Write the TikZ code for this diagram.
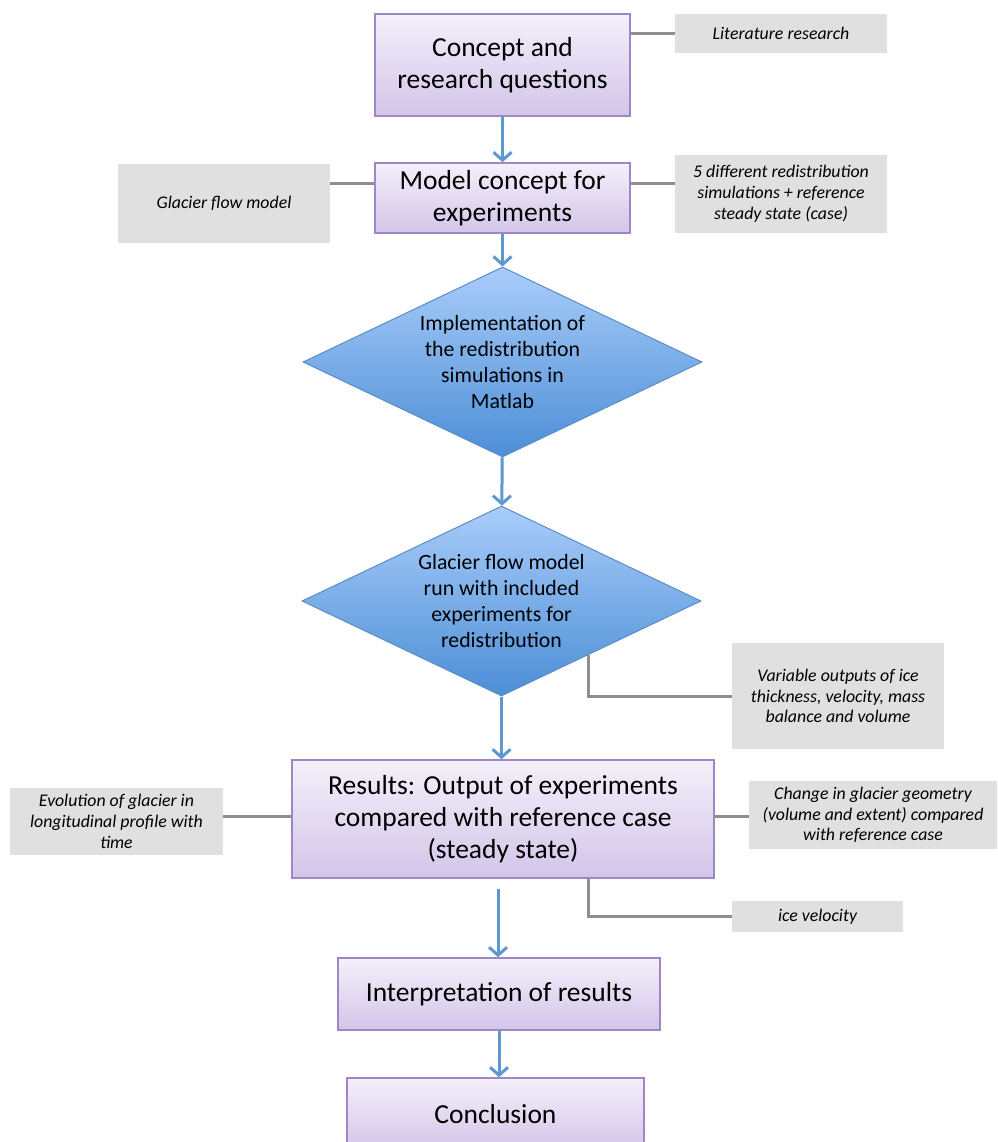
\documentclass[tikz,border=0pt]{standalone}
\usepackage{fontspec}
\setmainfont{Carlito}
\usetikzlibrary{shapes.geometric,arrows.meta,calc}
\definecolor{ptop}{HTML}{F4F0FA}
\definecolor{pbot}{HTML}{D3C5E9}
\definecolor{pborder}{HTML}{9F86C4}
\definecolor{gfill}{HTML}{E0E0E0}
\definecolor{lgray}{HTML}{8E8E8E}
\definecolor{ablue}{HTML}{5E98D0}
\definecolor{dtop}{HTML}{A9CDFA}
\definecolor{dbot}{HTML}{4C8ED6}
\definecolor{dborder}{HTML}{5A8DC8}
\begin{document}
\begin{tikzpicture}[x=1pt,y=-1pt,
  pbox/.style={draw=pborder, line width=1.5pt, top color=ptop, bottom color=pbot,
    align=center, font=\fontsize{27.5}{32}\selectfont, inner sep=0pt},
  gbox/.style={fill=gfill, align=center, font=\fontsize{17.8}{20.8}\selectfont\itshape, inner sep=0pt},
  dia/.style={diamond, aspect=2, draw=dborder, line width=1pt, top color=dtop, bottom color=dbot,
    align=center, font=\fontsize{21.8}{25.7}\selectfont, inner sep=0pt,
    minimum width=399pt, minimum height=190pt},
  flow/.style={draw=ablue, line width=3pt, -{Straight Barb[length=8pt,width=18pt]}},
  link/.style={draw=lgray, line width=3pt}]
\useasboundingbox (0,0) rectangle (997,1142);
\fill[white] (0,0) rectangle (997,1142);

% main boxes
\node[pbox, minimum width=255pt, minimum height=102pt] (b1) at (502.5,65) {Concept and\\research questions};
\node[pbox, minimum width=255pt, minimum height=70pt] (b2) at (502.5,198) {Model concept for\\experiments};
\node[dia] (d1) at (502.5,362) {Implementation of\\the redistribution\\simulations in\\Matlab};
\node[dia] (d2) at (501.5,601) {Glacier flow model\\run with included\\experiments for\\redistribution};
\node[pbox, minimum width=422pt, minimum height=118pt] (b3) at (503,819) {Results: Output of experiments\\compared with reference case\\(steady state)};
\node[pbox, minimum width=322pt, minimum height=72pt] (b4) at (499,994) {\raisebox{-3pt}{Interpretation of results}};
\node[pbox, minimum width=297pt, minimum height=72pt] (b5) at (495.5,1114) {\raisebox{-3pt}{Conclusion}};

% side boxes
\node[gbox, minimum width=212pt, minimum height=39pt] (lit) at (781,33.5) {Literature research};
\node[gbox, minimum width=212pt, minimum height=79pt] (gfm) at (224,203.5) {Glacier flow model};
\node[gbox, minimum width=212pt, minimum height=78pt] (sim) at (781,194) {5 different redistribution\\simulations + reference\\steady state (case)};
\node[gbox, minimum width=212pt, minimum height=106pt] (var) at (838,696) {Variable outputs of ice\\thickness, velocity, mass\\balance and volume};
\node[gbox, minimum width=213pt, minimum height=67pt] (evo) at (116.5,821.5) {Evolution of glacier in\\longitudinal profile with\\time};
\node[gbox, minimum width=248pt, minimum height=68pt] (chg) at (873,815) {Change in glacier geometry\\(volume and extent) compared\\with reference case};
\node[gbox, minimum width=171pt, minimum height=31pt] (ice) at (817.5,916.5) {ice velocity};

% gray links
\draw[link] (lit.west) -- (lit.west -| b1.east);
\draw[link] ([yshift=14pt]b2.west) -- ([yshift=19.5pt]gfm.east);
\draw[link] ([yshift=14pt]b2.east) -- ([yshift=10pt]sim.west);
\draw[link] (var.west) -| ($(d2.south)!0.4336!(d2.east)$);
\draw[link] ([yshift=5.5pt]evo.east) -- ([yshift=5.5pt]evo.east -| b3.west);
\draw[link] ([yshift=-1.5pt]chg.west) -- ([yshift=-1.5pt]chg.west -| b3.east);
\draw[link] (ice.west) -| ($(b3.south west)!0.701!(b3.south east)$);

% flow arrows
\draw[flow] (b1) -- (b2);
\draw[flow] (b2) -- (d1);
\draw[flow] (d1) -- (d2);
\draw[flow] (d2.south) -- (d2.south |- b3.north);
\draw[flow] ([xshift=-5pt,yshift=-10pt]b3.south) -- ([xshift=-5pt]b3.south |- b4.north);
\draw[flow] (b4.south) -- (b4.south |- b5.north);
\end{tikzpicture}
\end{document}
